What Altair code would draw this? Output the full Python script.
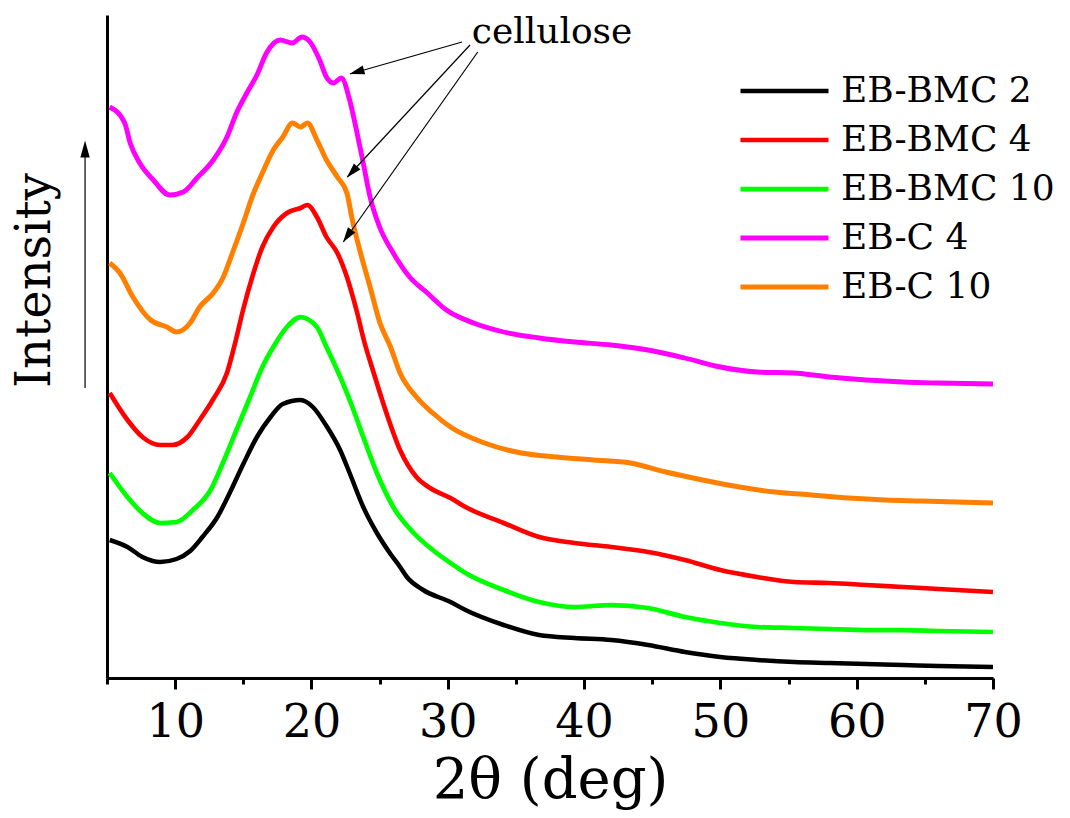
import altair as alt
import pandas as pd

FONT = "DejaVu Serif"

series_names = ["EB-BMC 2", "EB-BMC 4", "EB-BMC 10", "EB-C 4", "EB-C 10"]
series_colors = ["#000000", "#ff0000", "#00ff00", "#ff00ff", "#ff8000"]
series_widths = [4.5, 5.0, 4.5, 4.0, 3.8]

# 2theta (deg) and intensity (a.u., stacked offsets as in the figure)
x_bmc2 = [5.2, 6.5, 7.6, 8.9, 10.1, 11.1, 12.0, 13.1, 14.0, 15.0, 16.0, 17.0, 17.9, 19.2,
          20.1, 21.1, 22.1, 22.8, 23.8, 24.8, 25.8, 26.5, 27.0, 28.2, 30.2, 31.3, 34.1,
          36.7, 39.3, 42.0, 44.7, 47.4, 50.0, 52.7, 55.4, 58.0, 60.7, 63.4, 66.0, 70.0]
y_bmc2 = [138, 131, 121, 116, 119, 127, 141, 161, 185, 214, 241, 261, 274, 278,
          271, 252, 228, 205, 171, 145, 124, 111, 101, 88, 76, 68, 53,
          43, 40, 38, 33, 26, 21, 18, 16, 15, 14, 13, 12, 11]

x_bmc4 = [5.2, 6.5, 7.6, 8.9, 9.8, 10.9, 11.8, 12.8, 13.8, 14.4, 15.0, 15.7, 16.4, 17.2,
          18.2, 19.2, 19.7, 20.4, 21.1, 21.9, 22.6, 23.3, 23.9, 24.5, 25.5, 26.5, 27.7,
          28.7, 30.2, 31.3, 34.1, 36.7, 39.3, 42.0, 44.7, 47.4, 50.0, 52.7, 55.4, 58.0,
          60.7, 63.4, 66.0, 70.0]
y_bmc4 = [285, 258, 241, 233, 233, 241, 258, 279, 305, 335, 369, 403, 431, 451,
          465, 470, 473, 461, 441, 425, 401, 368, 335, 308, 265, 228, 201,
          190, 180, 171, 155, 141, 135, 131, 126, 118, 108, 101, 96, 95,
          93, 91, 89, 86]

x_bmc10 = [5.2, 6.5, 7.6, 8.9, 10.1, 11.3, 12.6, 13.5, 14.5, 15.5, 16.4, 17.2, 18.2, 19.2,
           20.4, 21.1, 22.3, 23.0, 23.8, 24.8, 26.0, 27.5, 28.9, 30.2, 31.3, 34.1, 36.7,
           39.3, 42.0, 44.7, 47.4, 50.0, 52.7, 55.4, 58.0, 60.7, 63.4, 66.0, 70.0]
y_bmc10 = [205, 181, 165, 155, 156, 168, 188, 215, 248, 281, 311, 331, 351, 361,
           351, 331, 295, 271, 241, 205, 171, 145, 128, 115, 105, 88, 76,
           71, 73, 70, 61, 55, 51, 50, 49, 48, 48, 47, 46]

x_c4 = [5.2, 6.3, 6.7, 7.4, 8.4, 9.6, 10.6, 11.6, 12.8, 13.8, 14.5, 15.3, 16.0, 16.7,
        17.7, 18.6, 19.3, 19.9, 20.6, 21.1, 21.6, 22.2, 22.8, 23.3, 23.8, 24.3, 25.0,
        26.0, 27.2, 28.5, 29.9, 31.9, 34.1, 36.7, 39.3, 42.0, 44.7, 47.4, 50.0, 52.7,
        55.4, 58.0, 60.7, 63.4, 66.0, 70.0]
y_c4 = [571, 555, 535, 515, 498, 483, 486, 500, 518, 541, 565, 586, 603, 625,
        638, 635, 641, 636, 618, 601, 595, 600, 578, 548, 515, 481, 451,
        425, 401, 385, 368, 355, 346, 340, 336, 333, 328, 320, 311, 306,
        305, 301, 298, 296, 295, 294]

x_c10 = [5.2, 5.95, 6.9, 8.2, 9.4, 10.1, 11.1, 11.8, 12.8, 13.5, 14.2, 15.0, 15.7, 16.4,
         17.2, 17.9, 18.6, 19.2, 19.7, 20.4, 21.1, 21.9, 22.6, 23.0, 23.6, 24.3, 25.0,
         25.8, 26.5, 27.7, 28.9, 30.2, 32.7, 35.4, 38.0, 40.7, 43.4, 46.0, 48.7, 51.4,
         54.0, 56.7, 59.4, 62.1, 64.7, 70.0]
y_c10 = [415, 405, 381, 358, 351, 346, 355, 371, 385, 400, 425, 455, 483, 505,
         528, 541, 555, 551, 555, 538, 518, 501, 485, 458, 425, 391, 356,
         331, 305, 281, 265, 251, 235, 225, 221, 218, 215, 206, 198, 191,
         186, 183, 180, 178, 177, 175]

x_tick_values = [5, 10, 15, 20, 25, 30, 35, 40, 45, 50, 55, 60, 65, 70]

# annotation: "cellulose" label and arrows (data coordinates)
label_text = ["cellulose"]
label_x = [37.65]
label_y = [635]
arrow_x0 = [31.05, 31.63, 32.2]
arrow_y0 = [636, 633, 626]
arrow_x1 = [22.83, 22.63, 22.34]
arrow_y1 = [604, 501, 436]
head_x = [23.32, 22.98, 22.63]
head_y = [606, 506, 442]
head_angle = [254, 223, 215]

# "Intensity" arrow left of the axis
int_arrow_x = [3.39]
int_arrow_y0 = [290]
int_arrow_y1 = [521]
int_head_y = [529]

rows = []
for name, xs, ys in zip(series_names, [x_bmc2, x_bmc4, x_bmc10, x_c4, x_c10],
                        [y_bmc2, y_bmc4, y_bmc10, y_c4, y_c10]):
    assert len(xs) == len(ys)
    for a, b in zip(xs, ys):
        rows.append({"sample": name, "theta": a, "I": b})
df = pd.DataFrame(rows)

x_scale = alt.Scale(domain=[5, 70], nice=False, zero=False)
y_scale = alt.Scale(domain=[0, 663], nice=False, zero=False)

x_axis = alt.Axis(
    values=x_tick_values,
    labelExpr="datum.value % 10 === 0 ? datum.label : ''",
    tickSize={"condition": {"test": "datum.value % 10 === 0", "value": 11}, "value": 6},
    tickWidth=3, tickColor="black", domainWidth=3, domainColor="black",
    labelFont=FONT, labelFontSize=46, labelColor="black", labelPadding=11,
    labelFlush=False, labelOverlap=False, grid=False,
    title="2θ (deg)", titleFont=FONT, titleFontSize=56, titleFontWeight="normal",
    titleColor="black", titlePadding=8,
)
y_axis = alt.Axis(
    labels=False, ticks=False, grid=False, domainWidth=3, domainColor="black",
    title="Intensity", titleFont=FONT, titleFontSize=48, titleFontWeight="normal",
    titleColor="black", titleX=-48, titleY=265,
)

X = alt.X("theta:Q", scale=x_scale, axis=x_axis, title="2θ (deg)")
Y = alt.Y("I:Q", scale=y_scale, axis=y_axis, title="Intensity")

lines = alt.Chart(df).mark_line(interpolate="monotone").encode(
    x=X, y=Y,
    color=alt.Color(
        "sample:N",
        scale=alt.Scale(domain=series_names, range=series_colors),
        legend=alt.Legend(
            orient="none", legendX=621, legendY=58, title=None, padding=0,
            labelFont=FONT, labelFontSize=36, labelColor="black",
            symbolType="M-1,0H15", symbolSize=121, symbolStrokeWidth=4.5,
            labelOffset=77, rowPadding=13, labelLimit=400,
        ),
    ),
    strokeWidth=alt.StrokeWidth("sample:N", scale=alt.Scale(domain=series_names, range=series_widths), legend=None),
    order=alt.Order("theta:Q"),
)

lab_df = pd.DataFrame({"txt": label_text, "theta": label_x, "I": label_y})
label = alt.Chart(lab_df).mark_text(font=FONT, fontSize=36, align="center", baseline="alphabetic", color="black").encode(
    x=X, y=Y, text="txt:N")

arr_df = pd.DataFrame({"theta": arrow_x0, "I": arrow_y0, "theta_e": arrow_x1, "I_e": arrow_y1})
arrows = alt.Chart(arr_df).mark_rule(color="black", strokeWidth=1.2).encode(
    x=X, y=Y, x2="theta_e:Q", y2="I_e:Q")

head_df = pd.DataFrame({"theta": head_x, "I": head_y, "ang": head_angle})
heads = alt.Chart(head_df).mark_point(shape="M0,-1L0.6,1L-0.6,1Z", filled=True, size=225,
                                      color="black", opacity=1, strokeWidth=0).encode(
    x=X, y=Y, angle=alt.Angle("ang:Q", scale=None))

ia_df = pd.DataFrame({"theta": int_arrow_x, "I": int_arrow_y0, "I_e": int_arrow_y1})
int_arrow = alt.Chart(ia_df).mark_rule(color="black", strokeWidth=1.2).encode(
    x=X, y=Y, y2="I_e:Q")
ih_df = pd.DataFrame({"theta": int_arrow_x, "I": int_head_y, "ang": [0]})
int_head = alt.Chart(ih_df).mark_point(shape="M0,-1L0.55,1L-0.55,1Z", filled=True, size=289,
                                       color="black", opacity=1, strokeWidth=0).encode(
    x=X, y=Y, angle=alt.Angle("ang:Q", scale=None))

chart = alt.layer(lines, label, arrows, heads, int_arrow, int_head).properties(
    width=886, height=663,
    padding={"left": 107, "top": 15, "right": 77, "bottom": 140},
    autosize=alt.AutoSizeParams(type="none"),
    background="white",
).configure_view(stroke=None)

chart.save("out.html", embed_options={"renderer": "svg", "actions": False})
